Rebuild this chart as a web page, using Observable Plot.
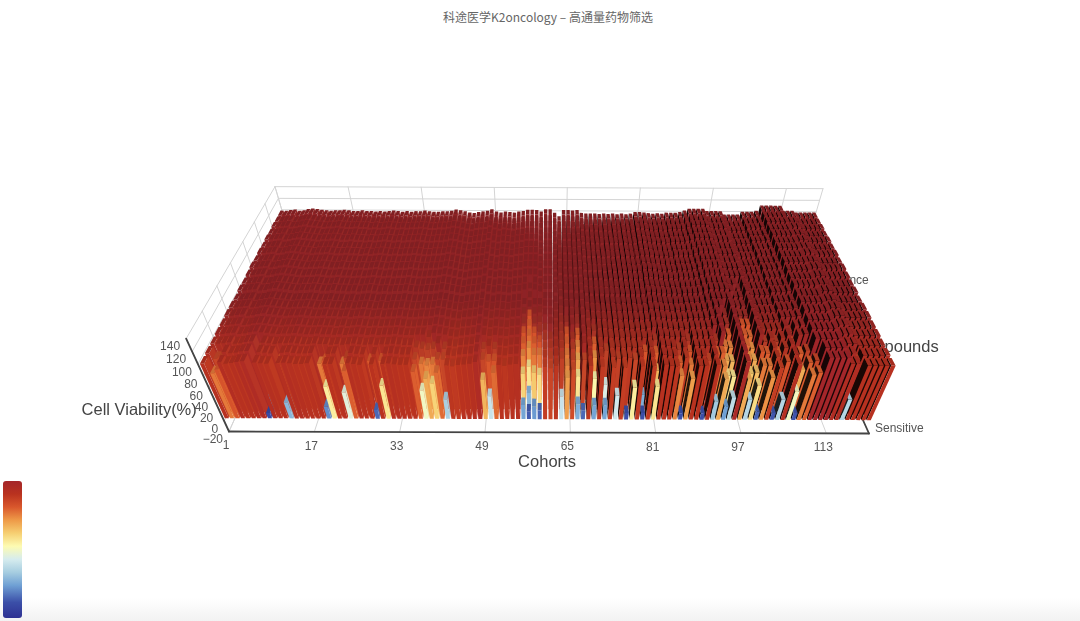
<!DOCTYPE html>
<html lang="zh">
<head>
<meta charset="utf-8">
<script src="https://cdn.jsdelivr.net/npm/d3@7"></script>
<script src="https://cdn.jsdelivr.net/npm/@observablehq/plot@0.6"></script>
<style>
html,body{margin:0;padding:0;background:#fff;width:1080px;height:621px;overflow:hidden;font-family:"Liberation Sans",sans-serif}
#title{height:34px;text-align:center;font:12px/34px "Noto Sans CJK SC","Liberation Sans",sans-serif;color:#666;position:relative;left:8px}
#band{position:absolute;left:0;right:0;top:598px;height:23px;background:linear-gradient(#fff,#f2f2f2)}
#chart{position:absolute;left:0;top:34px}
#chart svg{filter:blur(.45px)}
#bar{position:absolute;left:3px;top:481px;width:19px;height:137px;border-radius:3px}
</style>
</head>
<body>
<div id="band"></div>
<div id="title">科途医学K2oncology – 高通量药物筛选</div>
<div id="chart"></div>
<div id="bar"></div>
<script>
// ---- data -----------------------------------------------------------------
const cohortCount = 120;
const compoundCount = 20;
const cohortTicks = [1, 17, 33, 49, 65, 81, 97, 113];
const viabilityTicks = [-20, 0, 20, 40, 60, 80, 100, 120, 140];
// height of each cohort's resistant plateau (back edge of the block)
const plateau = [
  100,100,101,102,100,101,103,104,103,102,
  101,100,101,101,102,101,100,100,101,100,
  100,99,100,99,100,101,100,99,100,99,
  100,100,101,100,99,99,100,100,101,103,
  102,100,98,97,99,100,101,104,100,98,
  100,99,98,100,101,103,103,103,100,104,
  104,98,92,103,103,102,103,98,97,97,
  97,96,97,96,97,96,97,96,97,100,
  100,99,98,97,98,97,99,99,99,100,
  103,106,106,106,106,102,102,102,102,96,
  96,96,96,101,101,101,103,112,112,112,
  112,112,103,103,103,100,100,100,100,100];
// level of each compound row relative to the plateau, front to back
const rowLift = [-4,-3,-3,-2,-2,-1,-1,-2,0,-1,0,1,0,1,0,1,0,1,0,0];
// sensitive cohorts: their rows from the front until the plateau is reached
const sensitiveCohorts = [2,3,9,13,20,21,24,25,29,31,37,38,39,40,41,42,49,50,51,56,57,58,59,60,61,63,64,65,66,67,69,71,73,75,76,78,80,84,85,86,89,91,92,93,94,96,97,98,99,100,102,103,105,106,107,108,115];
const sensitiveRows = [
  [80,88],[86,90],
  [10,24,88],[30,85],[22,80],[58,85],[48,80],[84,90],[16,85],[60,86],
  [84,88,92],[52,80,90],[72,78,88,94],[64,80,90],[82,88],[36,88,90],
  [70,88,90],[42,85],[82,86,90],
  [26,64,78,84,86,88,90,92],[14,30,60,76,82,84,86,88,90,92],[24,66,80,84,86,88,90,92],[16,62,80,86,88,90,92,92],
  [92,92,90,90,92],[90,90,92,92],[42,90,92],[74,78,80,84,86,90],[88,88,90,92],[28,60,72,78,84,88,90],
  [16,88],[26,56,76,84,90],[26,46,88],[44,90],[12,92],[58,88],[12,28,86],[60,70,84,90],
  [78,84,90],[12,92],[74,80,86,90],[12,88],[34,78,84,90],[72,78,84],[25,62,72,80,84,88],[40,60,70,78,84,88,90],
  [72,76,80,84,86,88,90,92],[38,66,76,82,84,86,88,90,92],[62,68,72,76,82,86,88,90,92,92],[15,80,86],[76,80,84,88],
  [13,70,84,88],[38,86],[52,64,78,86,90],[13,72,84],[80,84,88],[84,88],[38,90]];
// colour bar stops
const rampValues = [0,12,25,35,45,55,65,75,85,95,105];
const rampColors = ["#2e3192","#3b4fa8","#6fa0d4","#a6cde0","#d6ecee","#fdfbb2","#f6cf72","#ee9a48","#d9572c","#b9321f","#a4262a"];
const massColor = "#8c2226";

// ---- camera: cohort fraction, compound fraction, viability -> picture units
function project(X, Y, Z) {
  const zz = Z + 20, w = 1 + 0.286 * Y - 0.000738 * zz;
  return [548.5 + 640 * (X - 0.5) / w, (431 - 80.8 * Y - 0.83 * zz) / w + 2 * X];
}
const Xof = c => (c - 1) / cohortCount;
const runs = new Map(sensitiveCohorts.map((c, i) => [c, sensitiveRows[i]]));
function viability(c, r) {
  const run = runs.get(c);
  if (run && r < run.length) return run[r];
  return plateau[c - 1] + rowLift[r];
}
const colour = Plot.scale({color: {type: "linear", domain: rampValues, range: rampColors, clamp: true}});

// ---- faces, painted back to front
const bw = 0.74 / cohortCount, bd = 0.76 / compoundCount, y0 = 0.012;
const faces = [];
let id = 0;
function quad(a, b, d, c, fill) { // two edges a-b and d-c
  id++;
  faces.push({id, x1: a[0], y1: a[1], x2: d[0], y2: d[1], fill});
  faces.push({id, x1: b[0], y1: b[1], x2: c[0], y2: c[1], fill});
}
const order = [...d3.range(1, 61), ...d3.range(cohortCount, 60, -1)];
for (let r = compoundCount - 1; r >= 0; r--) {
  const Y1 = y0 + r * (1 - y0) / compoundCount, Y2 = Y1 + bd;
  for (const c of order) {
    const v = viability(c, r);
    let base = colour.apply(v);
    if (v >= 88) base = d3.interpolateRgb(base, massColor)(Math.min(1, r / 7) * 0.92);
    const X1 = Xof(c), X2 = X1 + bw;
    const left = c > 60;
    const sx = left ? X1 : X2;
    const sideCol = left ? d3.color(base).darker(5.5).formatHex()
                         : d3.interpolateRgb(base, "#f0702c")(r < 3 ? 0.12 : 0.06);
    quad(project(sx, Y1, 0), project(sx, Y2, 0), project(sx, Y1, v), project(sx, Y2, v), sideCol);
    quad(project(X1, Y1, 0), project(X2, Y1, 0), project(X1, Y1, v), project(X2, Y1, v), base);
    quad(project(X1, Y1, v), project(X2, Y1, v), project(X1, Y2, v), project(X2, Y2, v), d3.color(base).darker(0.3).formatHex());
  }
}

// ---- walls and axes
function seg(list, a, b) { list.push({k: list.length, a: project(...a), b: project(...b)}); }
const grid = [], axes = [];
const yLines = [0, 0.143, 0.286, 0.429, 0.571, 0.714, 0.857, 1];
for (const c of [...cohortTicks, cohortCount + 1]) {
  seg(grid, [Xof(c), 1, -20], [Xof(c), 1, 140]);
  seg(grid, [Xof(c), 0, -20], [Xof(c), 1, -20]);
}
for (const z of viabilityTicks) {
  seg(grid, [0, 1, z], [1, 1, z]);
  seg(grid, [0, 0, z], [0, 1, z]);
}
for (const y of yLines) seg(grid, [0, y, -20], [0, y, 140]);
seg(axes, [0, 0, -20], [1, 0, -20]);
seg(axes, [0, 0, -20], [0, 0, 140]);
seg(axes, [1, 0, -20], [1, 1, -20]);
const toLine = list => list.flatMap(s => [{k: s.k, x: s.a[0], y: s.a[1]}, {k: s.k, x: s.b[0], y: s.b[1]}]);

const xLabels = cohortTicks.map(c => ({t: String(c), p: project(Xof(c), 0, -20)}));
const zLabels = viabilityTicks.map(z => ({t: z < 0 ? "−" + (-z) : String(z), p: project(0, 0, z)}));
const P = () => ({x: d => d.p[0], y: d => d.p[1], text: "t"});
const font = "Liberation Sans";

const chart = Plot.plot({
  width: 1080, height: 587, margin: 0,
  style: {background: "transparent"},
  x: {domain: [0, 1080], range: [0, 1080], axis: null},
  y: {domain: [34, 621], range: [0, 587], axis: null},
  color: {type: "identity"},
  marks: [
    Plot.line(toLine(grid), {x: "x", y: "y", z: "k", stroke: "#d4d4d4", strokeWidth: 1}),
    Plot.line(toLine(axes), {x: "x", y: "y", z: "k", stroke: "#444", strokeWidth: 1.8}),
    Plot.text(xLabels, {...P(), dx: -3, dy: 14, fontSize: 12, fill: "#555", fontFamily: font}),
    Plot.text(zLabels, {...P(), dx: -6, dy: 8, textAnchor: "end", fontSize: 12, fill: "#555", fontFamily: font}),
    Plot.text([{t: "Sensitive", p: project(1, 0, -20)}], {...P(), dx: 6, dy: -5, textAnchor: "start", fontSize: 12, fill: "#555", fontFamily: font}),
    Plot.text([{t: "Resistance", p: project(1, 0.62, -20)}], {...P(), dx: 48, dy: -46, textAnchor: "end", fontSize: 12, fill: "#555", fontFamily: font}),
    Plot.text([{t: "Cohorts", p: project(0.5, 0, -20)}], {...P(), dx: -2, dy: 29, fontSize: 16.5, fill: "#444", fontFamily: font}),
    Plot.text([{t: "Compounds", p: project(1, 0.3, -20)}], {...P(), dx: 95, dy: -30, textAnchor: "end", fontSize: 16.5, fill: "#444", fontFamily: font}),
    Plot.text([{t: "Cell Viability(%)", p: project(0, 0, 40)}], {...P(), dx: -75, dy: 10, fontSize: 16.5, fill: "#444", fontFamily: font}),
    Plot.area(faces, {x1: "x1", y1: "y1", x2: "x2", y2: "y2", z: "id", fill: "fill"})
  ]
});
document.getElementById("chart").append(chart);
document.getElementById("bar").style.background =
  "linear-gradient(to top," + rampColors.map((c, i) => c + " " + (rampValues[i] / 105 * 100).toFixed(1) + "%").join(",") + ")";
</script>
</body>
</html>
